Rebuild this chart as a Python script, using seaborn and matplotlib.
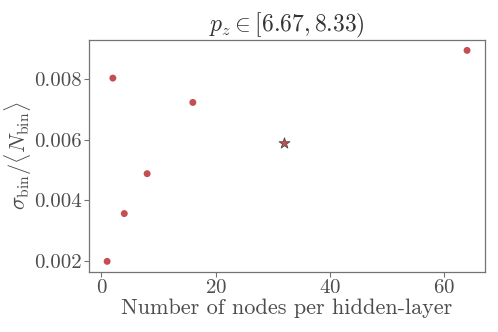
import matplotlib
matplotlib.use("Agg")
import matplotlib.pyplot as plt
import seaborn as sns
import pandas as pd

nodes = [1, 2, 4, 8, 16, 64]
rel_sigma = [0.00200, 0.00802, 0.00357, 0.00488, 0.00722, 0.00893]
best_nodes = [32]
best_sigma = [0.00590]

sns.set_theme(style="ticks")
plt.rcParams.update({
    "font.family": ["cmr10", "DejaVu Serif"],
    "mathtext.fontset": "cm",
    "axes.unicode_minus": False,
    "axes.formatter.use_mathtext": True,
    "axes.edgecolor": "0.45",
    "xtick.color": "0.45",
    "ytick.color": "0.45",
    "xtick.labelcolor": "0.3",
    "ytick.labelcolor": "0.3",
    "text.color": "0.2",
    "axes.labelcolor": "0.3",
})

df = pd.DataFrame({"nodes": nodes, "sigma": rel_sigma})
dfb = pd.DataFrame({"nodes": best_nodes, "sigma": best_sigma})

fig, ax = plt.subplots(figsize=(4.98, 3.32), dpi=100)
red = "#c44e52"
sns.scatterplot(data=df, x="nodes", y="sigma", ax=ax, color=red, s=25, edgecolor="none", zorder=3)
sns.scatterplot(data=dfb, x="nodes", y="sigma", ax=ax, color=red, marker="*", s=70,
                edgecolor="0.25", linewidth=0.5, zorder=3)
ax.set_xticks([0, 20, 40, 60])
ax.set_yticks([0.002, 0.004, 0.006, 0.008])
ax.set_yticklabels(["0.002", "0.004", "0.006", "0.008"])
ax.tick_params(labelsize=15, length=3.5, width=0.8, pad=1.5)
ax.set_xlabel("Number of nodes per hidden-layer", fontsize=16, labelpad=1)
ax.set_ylabel(r"$\sigma_{\rm bin}/\langle N_{\rm bin}\rangle$", fontsize=16, labelpad=0)
ax.set_title(r"$p_z \in [6.67, 8.33)$", fontsize=17, pad=4)
for s in ax.spines.values():
    s.set_linewidth(0.9)
fig.subplots_adjust(left=0.179, right=0.974, top=0.88, bottom=0.181)
fig.savefig("out.png", dpi=100)
